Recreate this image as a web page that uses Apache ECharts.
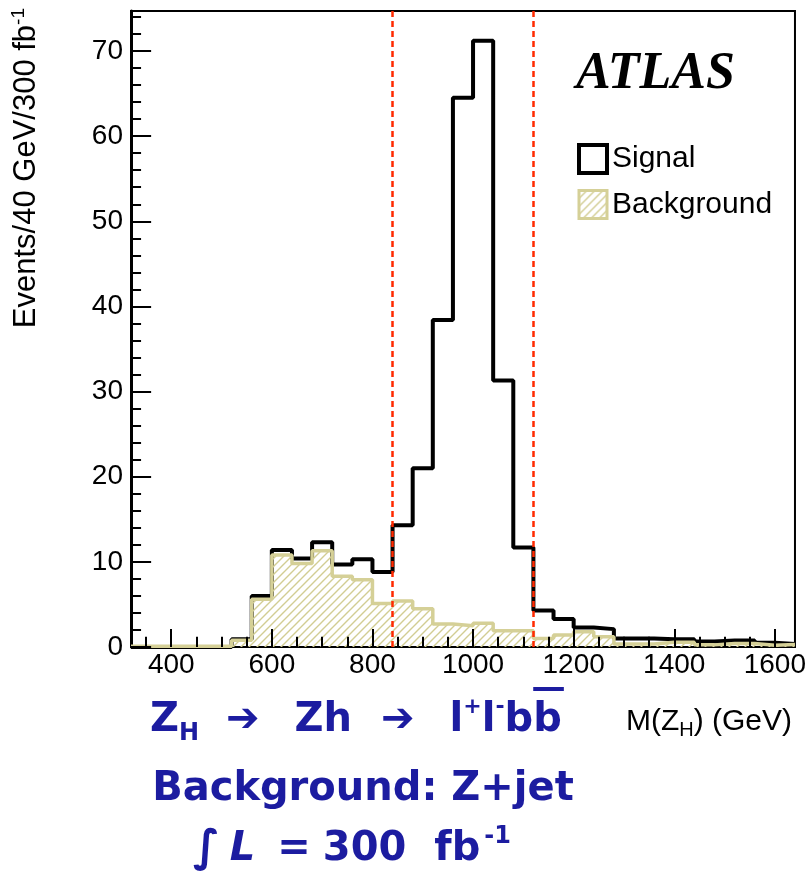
<!DOCTYPE html>
<html>
<head>
<meta charset="utf-8">
<script src="https://cdn.jsdelivr.net/npm/echarts@6/dist/echarts.min.js"></script>
<style>
  html, body { margin: 0; padding: 0; background: #ffffff; }
  #chart { width: 809px; height: 876px; }
</style>
</head>
<body>
<div id="chart"></div>
<script>
// Lower edges of the 40 GeV mass bins (last bin closes at binUpper)
const binEdges = [320, 360, 400, 440, 480, 520, 560, 600, 640, 680, 720, 760, 800,
                  840, 880, 920, 960, 1000, 1040, 1080, 1120, 1160, 1200, 1240, 1280,
                  1320, 1360, 1400, 1440, 1480, 1520, 1560, 1600];
const binUpper = 1640;

// Signal (drawn as the total on top of the background) and Z+jet background, events per bin
const signalCounts = [0, 0, 0, 0, 0, 0.9, 6.0, 11.4, 10.4, 12.3, 9.7, 10.3, 8.8,
                      14.3, 21.0, 38.4, 64.5, 71.2, 31.3, 11.7, 4.3, 3.3, 2.3, 2.1, 1.0,
                      1.0, 0.9, 0.9, 0.65, 0.75, 0.75, 0.5, 0.35];
const backgroundCounts = [0.1, 0.1, 0.1, 0.1, 0.1, 0.8, 5.6, 10.8, 9.8, 11.3, 8.3, 7.9, 5.1,
                          5.4, 4.5, 2.7, 2.5, 2.8, 1.9, 1.9, 1.0, 1.4, 1.8, 1.2, 0.35,
                          0.35, 0.55, 0.55, 0.25, 0.4, 0.4, 0.2, 0.3];

// Mass window cuts
const massWindow = [840, 1120];

// Axis ticks
const xTickLabels = [400, 600, 800, 1000, 1200, 1400, 1600];
const xMinorTicks = [350, 450, 500, 550, 650, 700, 750, 850, 900, 950, 1050, 1100, 1150,
                     1250, 1300, 1350, 1450, 1500, 1550];
const yTickLabels = [0, 10, 20, 30, 40, 50, 60, 70];
const yMinorTicks = [2, 4, 6, 8, 12, 14, 16, 18, 22, 24, 26, 28, 32, 34, 36, 38, 42, 44, 46, 48,
                     52, 54, 56, 58, 62, 64, 66, 68, 72, 74];

const X_MIN = 320, Y_MAX = 74.7;
const BLUE = '#1c1ca0';
const KHAKI = '#d5d097';
const SANS = '"Liberation Sans", Arial, sans-serif';
const DV = '"DejaVu Sans"';

// Tick lengths, expressed in axis units (x ticks grow in y, y ticks grow in x)
const X_TICK_MAJOR = 2.1, X_TICK_MINOR = 1.2;
const Y_TICK_MAJOR = 40, Y_TICK_MINOR = 20;

// Histogram outline: each bin edge carries that bin's content, closed at the upper edge
function stepData(counts) {
  const d = binEdges.map((e, i) => [e, counts[i]]);
  d.push([binUpper, counts[counts.length - 1]]);
  return d;
}

// Inward tick segments as marker line pairs on the cartesian scales
function tickSegments(values, horizontal, len) {
  return values.map(v => horizontal
    ? [{ coord: [v, 0] }, { coord: [v, len] }]
    : [{ coord: [X_MIN, v] }, { coord: [X_MIN + len, v] }]);
}

// Diagonal "///" hatch used for the background fill
function hatchCanvas() {
  const c = document.createElement('canvas');
  c.width = 8; c.height = 8;
  const g = c.getContext('2d');
  g.strokeStyle = '#d2cd93';
  g.lineWidth = 1.4;
  g.beginPath();
  g.moveTo(0, 8); g.lineTo(8, 0);
  g.moveTo(-2, 2); g.lineTo(2, -2);
  g.moveTo(6, 10); g.lineTo(10, 6);
  g.stroke();
  return c;
}
const hatch = { image: hatchCanvas(), repeat: 'repeat' };

// Text measuring, used to place the bar over the anti-b
const measureCtx = document.createElement('canvas').getContext('2d');
function textWidth(str, font) { measureCtx.font = font; return measureCtx.measureText(str).width; }

function txt(x, y, style, extra) {
  return Object.assign({ type: 'text', x: x, y: y, silent: true, style: style }, extra || {});
}
function blue(size, more) {
  return Object.assign({ fontSize: size, fontWeight: 'bold', fontFamily: DV, fill: BLUE, textFill: BLUE }, more || {});
}

// Process line layout
const line1X = 150;
const pad1 = [27, 35], pad2 = [29, 35];
const f40 = 'bold 40px "DejaVu Sans"', f24 = 'bold 24px "DejaVu Sans"', f22 = 'bold 22px "DejaVu Sans"';
const barStart = line1X
  + textWidth('Z', f40) + textWidth('H', f24)
  + pad1[0] + textWidth('➔', f40) + pad1[1]
  + textWidth('Zh', f40)
  + pad2[0] + textWidth('➔', f40) + pad2[1]
  + textWidth('l', f40) + textWidth('+', f22) + textWidth('l', f40) + textWidth('-', f22)
  + textWidth('b', f40);
const barEnd = barStart + textWidth('b', f40);

const chart = echarts.init(document.getElementById('chart'), null, { renderer: 'canvas' });

chart.setOption({
  animation: false,
  backgroundColor: '#ffffff',
  grid: {
    left: 131, right: 14, top: 11, bottom: 229,
    show: true, borderColor: '#000', borderWidth: 2
  },
  xAxis: {
    type: 'value', min: X_MIN, max: binUpper,
    axisLine: { show: true, onZero: false, lineStyle: { color: '#000', width: 2 } },
    axisTick: { show: false },
    axisLabel: { customValues: xTickLabels, fontSize: 28, color: '#000',
                 fontFamily: SANS, margin: 4, formatter: v => String(v) },
    splitLine: { show: false }
  },
  yAxis: {
    type: 'value', min: 0, max: Y_MAX,
    axisLine: { show: true, onZero: false, lineStyle: { color: '#000', width: 3 } },
    axisTick: { show: false },
    axisLabel: { customValues: yTickLabels, fontSize: 28, color: '#000',
                 fontFamily: SANS, margin: 8, formatter: v => String(v) },
    splitLine: { show: false }
  },
  legend: {
    orient: 'vertical', left: 577, top: 143, padding: 0,
    itemWidth: 28, itemHeight: 28, itemGap: 14, selectedMode: false,
    textStyle: { fontSize: 30, color: '#000', fontFamily: SANS },
    data: [
      { name: 'Signal', icon: 'rect',
        itemStyle: { color: '#ffffff', borderColor: '#000', borderWidth: 4 } },
      { name: 'Background', icon: 'rect',
        itemStyle: { color: hatch, borderColor: KHAKI, borderWidth: 3 } }
    ]
  },
  series: [
    {
      name: 'Signal', type: 'line', step: 'end',
      data: stepData(signalCounts), symbol: 'none', z: 2,
      lineStyle: { color: '#000', width: 4 },
      itemStyle: { color: '#000' },
      markLine: {
        silent: true, symbol: ['none', 'none'], label: { show: false }, animation: false,
        lineStyle: { color: '#000', width: 2, type: 'solid' },
        emphasis: { disabled: true },
        data: [].concat(
          tickSegments(xTickLabels, true, X_TICK_MAJOR),
          tickSegments(xMinorTicks, true, X_TICK_MINOR),
          tickSegments(yTickLabels, false, Y_TICK_MAJOR),
          tickSegments(yMinorTicks, false, Y_TICK_MINOR)
        )
      }
    },
    {
      name: 'Background', type: 'line', step: 'end',
      data: stepData(backgroundCounts), symbol: 'none', z: 3,
      lineStyle: { color: KHAKI, width: 3.5 },
      itemStyle: { color: KHAKI },
      areaStyle: { color: hatch, opacity: 1 },
      markLine: {
        silent: true, symbol: ['none', 'none'], label: { show: false }, animation: false,
        lineStyle: { color: '#ff2a00', width: 2.5, type: [6, 4] },
        emphasis: { disabled: true },
        data: massWindow.map(v => ({ xAxis: v }))
      }
    }
  ],
  graphic: [
    // Experiment tag
    txt(576, 75, {
      text: 'ATLAS', font: 'italic bold 52px "Liberation Serif", "Times New Roman", serif',
      fill: '#000', textFill: '#000', align: 'left', textAlign: 'left',
      verticalAlign: 'middle', textVerticalAlign: 'middle'
    }),
    // y-axis title
    txt(26, 8, {
      text: '{n|Events/40 GeV/300 fb}{s|-1}',
      align: 'right', textAlign: 'right', verticalAlign: 'middle', textVerticalAlign: 'middle',
      rich: {
        n: { fontSize: 31, fontFamily: SANS, fill: '#000', textFill: '#000', lineHeight: 34 },
        s: { fontSize: 19, fontFamily: SANS, fill: '#000', textFill: '#000', lineHeight: 19,
             verticalAlign: 'top' }
      }
    }, { rotation: Math.PI / 2 }),
    // x-axis title
    txt(792, 722, {
      text: '{n|M(Z}{s|H}{n|) (GeV)}',
      align: 'right', textAlign: 'right', verticalAlign: 'middle', textVerticalAlign: 'middle',
      rich: {
        n: { fontSize: 30, fontFamily: SANS, fill: '#000', textFill: '#000', lineHeight: 36 },
        s: { fontSize: 20, fontFamily: SANS, fill: '#000', textFill: '#000', lineHeight: 20,
             verticalAlign: 'bottom' }
      }
    }),
    // Process annotation
    txt(line1X, 721, {
      text: '{m|Z}{sub|H}{a1|➔}{m|Zh}{a2|➔}{m|l}{sup|+}{m|l}{sup|-}{m|bb}',
      align: 'left', textAlign: 'left', verticalAlign: 'middle', textVerticalAlign: 'middle',
      rich: {
        m: blue(40, { lineHeight: 50 }),
        sub: blue(24, { lineHeight: 24, verticalAlign: 'bottom' }),
        sup: blue(22, { lineHeight: 22, verticalAlign: 'top' }),
        a1: blue(40, { lineHeight: 50, padding: [0, pad1[1], 0, pad1[0]] }),
        a2: blue(40, { lineHeight: 50, padding: [0, pad2[1], 0, pad2[0]] })
      }
    }),
    // bar over the anti-b
    { type: 'line', silent: true, shape: { x1: barStart, y1: 689, x2: barEnd + 2, y2: 689 },
      style: { stroke: BLUE, lineWidth: 4 } },
    txt(363, 790, {
      text: 'Background: Z+jet', font: 'bold 40px "DejaVu Sans"', fill: BLUE, textFill: BLUE,
      align: 'center', textAlign: 'center', verticalAlign: 'middle', textVerticalAlign: 'middle'
    }),
    txt(193, 850, {
      text: '{ig|∫}{it|L}{eq|=}{m|300}{fb|fb}{sup|-1}',
      align: 'left', textAlign: 'left', verticalAlign: 'middle', textVerticalAlign: 'middle',
      rich: {
        m: blue(40, { lineHeight: 50 }),
        ig: blue(44, { lineHeight: 50, padding: [0, 10, 0, 0] }),
        it: blue(40, { lineHeight: 50, fontStyle: 'italic' }),
        eq: blue(40, { lineHeight: 50, padding: [0, 12, 0, 22] }),
        fb: blue(40, { lineHeight: 50, padding: [0, 4, 0, 28] }),
        sup: blue(24, { lineHeight: 24, verticalAlign: 'top' })
      }
    })
  ]
});
</script>
</body>
</html>
